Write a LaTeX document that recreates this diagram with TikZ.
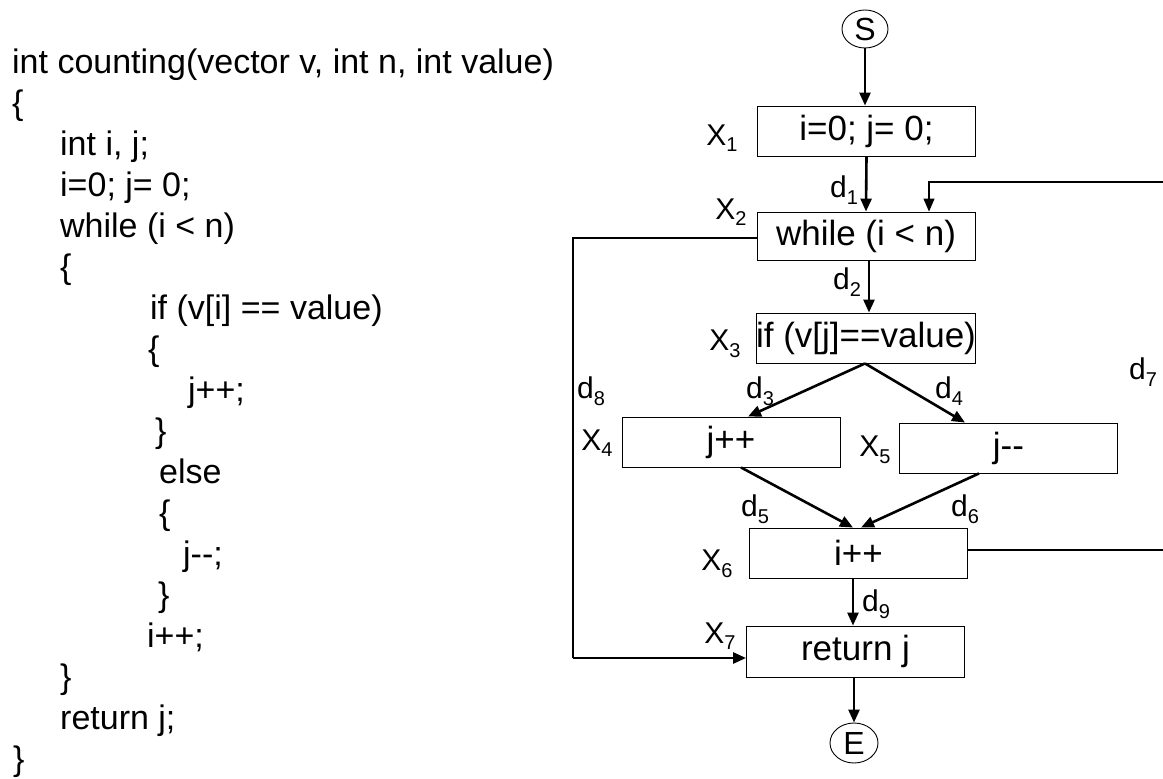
\documentclass[tikz,border=0pt]{standalone}
\usepackage{fontspec}
\setmainfont[Ligatures={}]{Liberation Sans}
\usetikzlibrary{arrows.meta,shapes.geometric}
\newcommand\subl[2]{#1\raisebox{-0.22em}{\fontsize{20}{20}\selectfont #2}}
\begin{document}
\begin{tikzpicture}[x=1pt,y=-1pt,
  code/.style={anchor=base west, inner sep=0pt, font=\fontsize{34}{40}\selectfont},
  box/.style={draw, line width=0.9pt, minimum width=218pt, minimum height=50pt, inner sep=0pt, font=\fontsize{35}{40}\selectfont},
  term/.style={draw, ellipse, line width=0.9pt, minimum width=46pt, minimum height=38pt, inner sep=0pt, font=\fontsize{32}{36}\selectfont},
  lbl/.style={inner sep=0pt, font=\fontsize{30}{32}\selectfont},
  thick arrow/.style={line width=2.6pt, -{Triangle[length=13pt,width=11pt]}},
  thin arrow/.style={line width=1.2pt, -{Triangle[length=13pt,width=11pt]}},
  thin line/.style={line width=1.2pt}]
\useasboundingbox[fill=white] (0,0) rectangle (1163,779);

% code
\node[code] (c1) at (12,73) {int counting(vector v, int n, int value)};
\node[code] (c2) at (12,114) {\{};
\node[code] (c3) at (60,155) {int i, j;};
\node[code] (c4) at (60,196) {i=0; j= 0;};
\node[code] (c5) at (60,237) {while (i < n)};
\node[code] (c6) at (60,278) {\{};
\node[code] (c7) at (150,319) {if (v[i] == value)};
\node[code] (c8) at (148,360) {\{};
\node[code] (c9) at (188,401) {j++;};
\node[code] (c10) at (155,442) {\}};
\node[code] (c11) at (159,483) {else};
\node[code] (c12) at (159,524) {\{};
\node[code] (c13) at (183,565) {j-{}-;};
\node[code] (c14) at (158,606) {\}};
\node[code] (c15) at (147,647) {i++;};
\node[code] (c16) at (60,688) {\}};
\node[code] (c17) at (60,729) {return j;};
\node[code] (c18) at (13,770) {\}};

% flow graph nodes
\node[term] (S) at (865,29) {S};
\node[box] (X1) at (866.5,131) {i=0; j= 0;};
\node[box, minimum height=48pt] (X2) at (866,236) {while (i < n)};
\node[box] (X3) at (866,338) {if (v[j]==value)};
\node[box] (X4) at (731,442) {j++};
\node[box] (X5) at (1008.5,448) {j-{}-};
\node[box] (X6) at (858.5,553) {i++};
\node[box, minimum height=51pt] (X7) at (855.5,651.5) {return j};
\node[term, minimum width=48pt, minimum height=40pt] (E) at (854,743) {E};

% node labels
\node[lbl] (lx1) at (722,138) {\subl{X}{1}};
\node[lbl] (lx2) at (731,212) {\subl{X}{2}};
\node[lbl] (lx3) at (725,344) {\subl{X}{3}};
\node[lbl] (lx4) at (597,443) {\subl{X}{4}};
\node[lbl] (lx5) at (875,450) {\subl{X}{5}};
\node[lbl] (lx6) at (717,564) {\subl{X}{6}};
\node[lbl] (lx7) at (720,636) {\subl{X}{7}};

% edge labels
\node[lbl] (ld1) at (844,190) {\subl{d}{1}};
\node[lbl] (ld2) at (847,282) {\subl{d}{2}};
\node[lbl] (ld3) at (760,391) {\subl{d}{3}};
\node[lbl] (ld4) at (949,391) {\subl{d}{4}};
\node[lbl] (ld5) at (755,509) {\subl{d}{5}};
\node[lbl] (ld6) at (965,509) {\subl{d}{6}};
\node[lbl] (ld7) at (1143,372) {\subl{d}{7}};
\node[lbl] (ld8) at (591,391) {\subl{d}{8}};
\node[lbl] (ld9) at (876,604) {\subl{d}{9}};

% connectors
\draw[thick arrow] (S.south) -- (S.south |- X1.north);
\draw[thick arrow] (X1.south) -- (X2.north);
\draw[thick arrow] ([xshift=3pt]X2.south) -- ([xshift=3pt]X2.south |- X3.north);
\draw[thick arrow] ([xshift=-1pt]X3.south) -- ([xshift=17pt]X4.north);
\draw[thick arrow] ([xshift=-1pt]X3.south) -- ([xshift=-43.5pt]X5.north);
\draw[thick arrow] ([xshift=10pt]X4.south) -- ([xshift=-5.5pt]X6.north);
\draw[thick arrow] ([xshift=-29.5pt]X5.south) -- ([xshift=2.5pt]X6.north);
\draw[thick arrow] ([xshift=-5.5pt]X6.south) -- ([xshift=-2.5pt]X7.north);
\draw[thick arrow] ([xshift=-1.5pt]X7.south) -- (E.north);

% d7 back edge (leaves the picture on the right)
\coordinate (r1) at (1163,550);
\coordinate (r2) at (1163,182);
\draw[thin line] (X6.east |- r1) -- (r1);
\draw[thin arrow] (r2) -| ([xshift=63pt]X2.north);

% d8 exit edge
\coordinate (l1) at (573,238);
\coordinate (l2) at (573,658);
\draw[thin line] (X2.west |- l1) -- (l1) -- (l2);
\draw[thick arrow] (l2) -- (X7.west |- l2);
\end{tikzpicture}
\end{document}
